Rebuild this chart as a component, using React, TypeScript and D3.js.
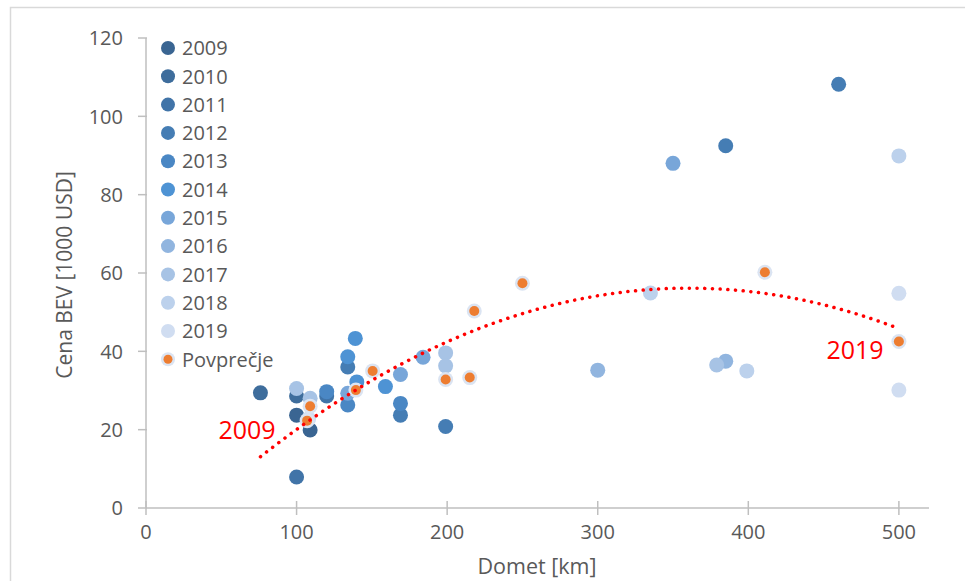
import * as d3 from 'd3'

// Range [km] and price [1000 USD] per model year
const years = ['2009', '2010', '2011', '2012', '2013', '2014', '2015', '2016', '2017', '2018', '2019']
const y2009 = [[100, 23.7], [109, 19.9]]
const y2010 = [[100, 28.6], [76, 29.4]]
const y2011 = [[100, 7.9], [120, 28.6]]
const y2012 = [[134, 36], [199, 20.8], [385, 92.5], [460, 108.2], [169, 23.7]]
const y2013 = [[120, 29.7], [134, 26.3], [169, 26.7]]
const y2014 = [[139, 43.3], [134, 38.6], [159, 31], [140, 32.2]]
const y2015 = [[169, 34.1], [184, 38.5], [350, 88], [134, 29.3]]
const y2016 = [[300, 35.2], [385, 37.5]]
const y2017 = [[100, 30.5], [109, 28], [199, 39.6], [199, 36.3], [379, 36.5]]
const y2018 = [[399, 35], [500, 89.9], [335, 54.9]]
const y2019 = [[500, 54.8], [500, 30.1], [108, 22.8]]
const series = [y2009, y2010, y2011, y2012, y2013, y2014, y2015, y2016, y2017, y2018, y2019]
const averages = [
  [107, 22.3], [109, 26], [139.4, 30.1], [150.5, 35], [199, 32.8], [215, 33.3],
  [218, 50.3], [250, 57.4], [411, 60.2], [500, 42.5],
]
const colors = ['#3a6592', '#3e6d9c', '#4174a8', '#457db4', '#4a87c4', '#4e93d4', '#78a6d9', '#91b5df', '#a7c3e5', '#bcd1ec', '#d0ddf1']
const xTicks = [0, 100, 200, 300, 400, 500]
const yTicks = [0, 20, 40, 60, 80, 100, 120]

// least squares quadratic fit (Excel polynomial trendline, order 2)
function quadFit(pts: number[][]) {
  let s = [0, 0, 0, 0, 0]
  let t = [0, 0, 0]
  pts.forEach(([x, y]) => {
    for (let k = 0; k < 5; k++) s[k] += Math.pow(x, k)
    for (let k = 0; k < 3; k++) t[k] += y * Math.pow(x, k)
  })
  const m = [
    [s[0], s[1], s[2], t[0]],
    [s[1], s[2], s[3], t[1]],
    [s[2], s[3], s[4], t[2]],
  ]
  for (let i = 0; i < 3; i++) {
    for (let j = i + 1; j < 3; j++) {
      const f = m[j][i] / m[i][i]
      for (let k = i; k < 4; k++) m[j][k] -= f * m[i][k]
    }
  }
  const c = [0, 0, 0]
  for (let i = 2; i >= 0; i--) {
    let v = m[i][3]
    for (let k = i + 1; k < 3; k++) v -= m[i][k] * c[k]
    c[i] = v / m[i][i]
  }
  return (x: number) => c[0] + c[1] * x + c[2] * x * x
}

const W = 965
const H = 581
const font = '"Open Sans", "Noto Sans", sans-serif'
const textColor = '#595959'

export default function App() {
  const x = d3.scaleLinear().domain([0, 520]).range([146, 929])
  const y = d3.scaleLinear().domain([0, 120]).range([508, 38])

  const allPts = series.flat()
  const fit = quadFit(averages)
  const xMin = d3.min(allPts, d => d[0]) as number
  const xMax = d3.max(allPts, d => d[0]) as number
  const trend = d3.range(xMin, xMax + 0.5, 2).map(v => [v, fit(v)])
  const line = d3.line<number[]>().x(d => x(d[0])).y(d => y(d[1]))

  return (
    <svg width={W} height={H} style={{ position: 'absolute', left: 0, top: 0, background: '#fff' }}>
      <rect x={10.5} y={7.5} width={W + 10} height={H + 10} fill="#fff" stroke="#d9d9d9" strokeWidth={1.5} />

      {/* axes */}
      <line x1={x(0)} x2={x(0)} y1={y(120)} y2={y(0)} stroke="#bfbfbf" strokeWidth={1.5} />
      <line x1={x(0)} x2={x(520)} y1={y(0)} y2={y(0)} stroke="#bfbfbf" strokeWidth={1.5} />
      {yTicks.map(t => (
        <g key={'y' + t}>
          <line x1={x(0) - 8} x2={x(0) + 1} y1={y(t)} y2={y(t)} stroke="#bfbfbf" strokeWidth={1.5} />
          <text x={123} y={y(t)} dy="0.36em" textAnchor="end" fontFamily={font} fontSize={20} fill={textColor}>{t}</text>
        </g>
      ))}
      {xTicks.map(t => (
        <g key={'x' + t}>
          <line x1={x(t)} x2={x(t)} y1={y(0) - 7} y2={y(0) + 7} stroke="#bfbfbf" strokeWidth={1.5} />
          <text x={x(t)} y={539} textAnchor="middle" fontFamily={font} fontSize={20} fill={textColor}>{t}</text>
        </g>
      ))}
      <text x={537} y={574} textAnchor="middle" fontFamily={font} fontSize={21.5} fill={textColor}>Domet [km]</text>
      <text transform={`translate(72,${y(60) + 2}) rotate(-90)`} textAnchor="middle" fontFamily={font} fontSize={21} fill={textColor}>Cena BEV [1000 USD]</text>

      {/* year series */}
      {series.map((pts, i) => (
        <g key={years[i]}>
          {pts.map((p, j) => (
            <circle key={j} cx={x(p[0])} cy={y(p[1])} r={7.5} fill={colors[i]} />
          ))}
        </g>
      ))}

      {/* averages */}
      {averages.map((p, j) => (
        <g key={'a' + j}>
          <circle cx={x(p[0])} cy={y(p[1])} r={7.5} fill="#dbe4f2" />
          <circle cx={x(p[0])} cy={y(p[1])} r={5} fill="#ed7d31" />
        </g>
      ))}

      {/* trendline */}
      <path d={line(trend) ?? ''} fill="none" stroke="#ff0000" strokeWidth={3.5} strokeLinecap="round" strokeDasharray="0.1 7.6" />
      <text x={247} y={439} textAnchor="middle" fontFamily={font} fontSize={25} fill="#ff0000">2009</text>
      <text x={855} y={359} textAnchor="middle" fontFamily={font} fontSize={25} fill="#ff0000">2019</text>

      {/* legend */}
      {years.map((yr, i) => (
        <g key={'l' + yr} transform={`translate(168,${48 + i * 28.3})`}>
          <circle r={7} fill={colors[i]} />
          <text x={14} dy="0.36em" fontFamily={font} fontSize={20} fill={textColor}>{yr}</text>
        </g>
      ))}
      <g transform={`translate(168,${48 + years.length * 28.3})`}>
        <circle r={7} fill="#dbe4f2" />
        <circle r={4.5} fill="#ed7d31" />
        <text x={14} dy="0.36em" fontFamily={font} fontSize={20} fill={textColor}>Povprečje</text>
      </g>
    </svg>
  )
}
